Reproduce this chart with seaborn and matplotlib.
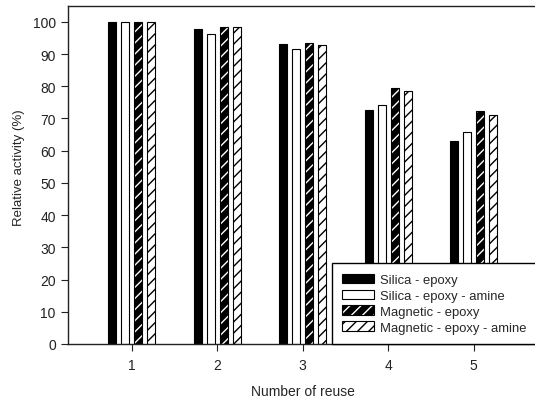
import matplotlib
matplotlib.use("Agg")
import matplotlib.pyplot as plt
import numpy as np
import pandas as pd
import seaborn as sns
from matplotlib.patches import Patch

reuse = ["1", "2", "3", "4", "5"]
series = ["Silica - epoxy", "Silica - epoxy - amine",
          "Magnetic - epoxy", "Magnetic - epoxy - amine"]
silica_epoxy = [100.0, 97.9, 93.0, 72.7, 62.9]
silica_epoxy_amine = [100.0, 96.2, 91.5, 74.2, 65.7]
magnetic_epoxy = [99.8, 98.4, 93.5, 79.3, 72.4]
magnetic_epoxy_amine = [100.0, 98.5, 92.7, 78.6, 71.1]

values = [silica_epoxy, silica_epoxy_amine, magnetic_epoxy, magnetic_epoxy_amine]
rows = []
for s, vals in zip(series, values):
    for r, v in zip(reuse, vals):
        rows.append({"reuse": r, "value": v, "series": s})
df = pd.DataFrame(rows)

sns.set_theme(style="ticks")
plt.rcParams['font.family'] = ['Liberation Sans', 'DejaVu Sans']
plt.rcParams['hatch.linewidth'] = 1.0

faces = {"Silica - epoxy": "black", "Silica - epoxy - amine": "white",
         "Magnetic - epoxy": "black", "Magnetic - epoxy - amine": "white"}
hatches = {"Silica - epoxy": "", "Silica - epoxy - amine": "",
           "Magnetic - epoxy": "///", "Magnetic - epoxy - amine": "///"}
hatch_colors = {"Silica - epoxy": "black", "Silica - epoxy - amine": "black",
                "Magnetic - epoxy": "white", "Magnetic - epoxy - amine": "black"}

fig = plt.figure(figsize=(5.35, 4.02), dpi=100)
ax = fig.add_axes([0.1277, 0.1418, 0.876, 0.8416])

sns.barplot(data=df, x="reuse", y="value", hue="series", order=reuse,
            hue_order=series, palette=faces, saturation=1, width=0.608,
            gap=0.38, edgecolor="black", linewidth=0.8, ax=ax, legend=False,
            errorbar=None)

for s, cont in zip(series, ax.containers):
    for p in cont:
        p.set_hatch(hatches[s])
        p.set_edgecolor("black")
        p._hatch_color = matplotlib.colors.to_rgba(hatch_colors[s])

ax.set_xlim(-0.74, 4.74)
ax.set_ylim(0, 105)
ax.set_yticks(np.arange(0, 101, 10))
ax.tick_params(axis="both", direction="out", length=5, width=0.8,
               labelsize=10, colors="#222222", pad=4)
ax.tick_params(axis="x", pad=5)
for sp in ax.spines.values():
    sp.set_visible(True)
    sp.set_linewidth(1.0)
    sp.set_color("#222222")

ax.set_xlabel("Number of reuse", fontsize=10, labelpad=9)
ax.set_ylabel("Relative activity (%)", fontsize=9.5)
ax.yaxis.set_label_coords(-0.093, 0.523)

handles = []
for s in series:
    h = Patch(facecolor=faces[s], edgecolor="black", hatch=hatches[s],
              linewidth=0.8, label=s)
    h._hatch_color = matplotlib.colors.to_rgba(hatch_colors[s])
    handles.append(h)
leg = ax.legend(handles=handles, loc="lower right", borderaxespad=0,
                fancybox=False, edgecolor="black", framealpha=1, fontsize=9.4,
                handlelength=2.4, handleheight=0.77, handletextpad=0.5,
                labelspacing=0.26, borderpad=0.8)
leg.get_frame().set_linewidth(1.0)
for s, p in zip(series, leg.get_patches()):
    p._hatch_color = matplotlib.colors.to_rgba(hatch_colors[s])

fig.savefig("out.png", dpi=100)
